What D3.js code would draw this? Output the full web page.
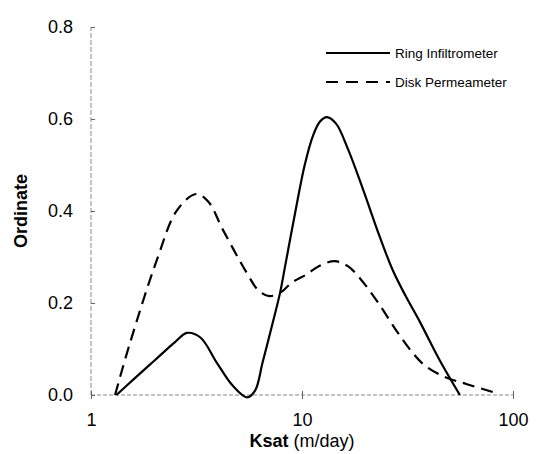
<!DOCTYPE html>
<html><head><meta charset="utf-8">
<script src="https://cdn.jsdelivr.net/npm/d3@7/dist/d3.min.js"></script>
<style>body{margin:0;background:#fff}svg{display:block}text{font-family:"Liberation Sans",Arial,sans-serif;fill:#000}</style>
</head><body><svg id="c" width="544" height="454"></svg>
<script>
const ringKsat = [1.32,1.6,2.0,2.5,2.85,3.3,3.95,4.7,5.5,6.0,6.5,7.2,7.87,8.3,9.27,10.3,11.3,12.2,13.1,14.5,16.5,19.5,23.4,27,31,36.2,45,56];
const ringOrd  = [0,0.035,0.075,0.115,0.135,0.125,0.07,0.02,-0.005,0.01,0.07,0.15,0.222,0.278,0.395,0.5,0.565,0.595,0.604,0.59,0.535,0.446,0.343,0.27,0.215,0.159,0.075,0];
const diskKsat = [1.3,1.53,2.05,2.56,3.15,3.6,4.22,5.48,6.2,7.0,7.87,9.0,10.5,12,14.3,16.5,18.8,23,28,33,38,47,60,82];
const diskOrd  = [0,0.113,0.293,0.402,0.437,0.42,0.359,0.265,0.228,0.215,0.222,0.245,0.262,0.28,0.291,0.28,0.254,0.2,0.14,0.095,0.065,0.04,0.024,0.005];
const xTicks = [1,10,100];
const yTicks = [0,0.2,0.4,0.6,0.8];
const seriesNames = ["Ring Infiltrometer","Disk Permeameter"];

const svg = d3.select("#c");
const x = d3.scaleLog().domain([1,100]).range([91,513]);
const y = d3.scaleLinear().domain([0,0.8]).range([395,27]);

// axes
const axisCol = "#8a8a8a";
svg.append("line").attr("x1",x(1)).attr("x2",x(100)).attr("y1",y(0)).attr("y2",y(0))
  .attr("stroke",axisCol).attr("stroke-width",1).attr("stroke-dasharray","4,2");
svg.append("line").attr("x1",x(1)).attr("x2",x(1)).attr("y1",y(0)).attr("y2",y(0.8))
  .attr("stroke",axisCol).attr("stroke-width",1).attr("stroke-dasharray","5,2");

const xa = svg.append("g").attr("transform",`translate(0,${y(0)})`)
  .call(d3.axisBottom(x).tickValues(xTicks).tickFormat(d3.format("d")).tickSize(4).tickPadding(14));
const ya = svg.append("g").attr("transform",`translate(${x(1)},0)`)
  .call(d3.axisLeft(y).tickValues(yTicks).tickFormat(d3.format(".1f")).tickSize(4).tickPadding(14));
[xa,ya].forEach(a=>{
  a.select(".domain").remove();
  a.selectAll(".tick line").attr("stroke","#666");
  a.selectAll(".tick text").attr("font-size",18).attr("font-family","Liberation Sans, Arial, sans-serif").attr("fill","#000");
});
xa.selectAll(".tick line").attr("y1",-4);
ya.selectAll(".tick line").attr("x2",4);

// titles
svg.append("text").attr("x",302).attr("y",447).attr("text-anchor","middle").attr("font-size",18)
  .html('<tspan font-weight="bold">Ksat</tspan> (m/day)');
svg.append("text").attr("transform","translate(27,211) rotate(-90)").attr("text-anchor","middle")
  .attr("font-size",18).attr("font-weight","bold").text("Ordinate");

// lines
const line = d3.line().x(d=>x(d[0])).y(d=>y(d[1])).curve(d3.curveCatmullRom.alpha(0.5));
svg.append("path").datum(ringKsat.map((k,i)=>[k,ringOrd[i]]))
  .attr("d",line).attr("fill","none").attr("stroke","#000").attr("stroke-width",2.2);
svg.append("path").datum(diskKsat.map((k,i)=>[k,diskOrd[i]]))
  .attr("d",line).attr("fill","none").attr("stroke","#000").attr("stroke-width",2.2)
  .attr("stroke-dasharray","12,7");

// legend
const lg = svg.append("g");
[0,1].forEach(i=>{
  const yy = 53 + i*29;
  lg.append("line").attr("x1",326).attr("x2",390).attr("y1",yy).attr("y2",yy)
    .attr("stroke","#000").attr("stroke-width",1.8).attr("stroke-dasharray", i? "12,8":null);
  lg.append("text").attr("x",395).attr("y",yy+5).attr("font-size",13.5).text(seriesNames[i]);
});
</script></body></html>
